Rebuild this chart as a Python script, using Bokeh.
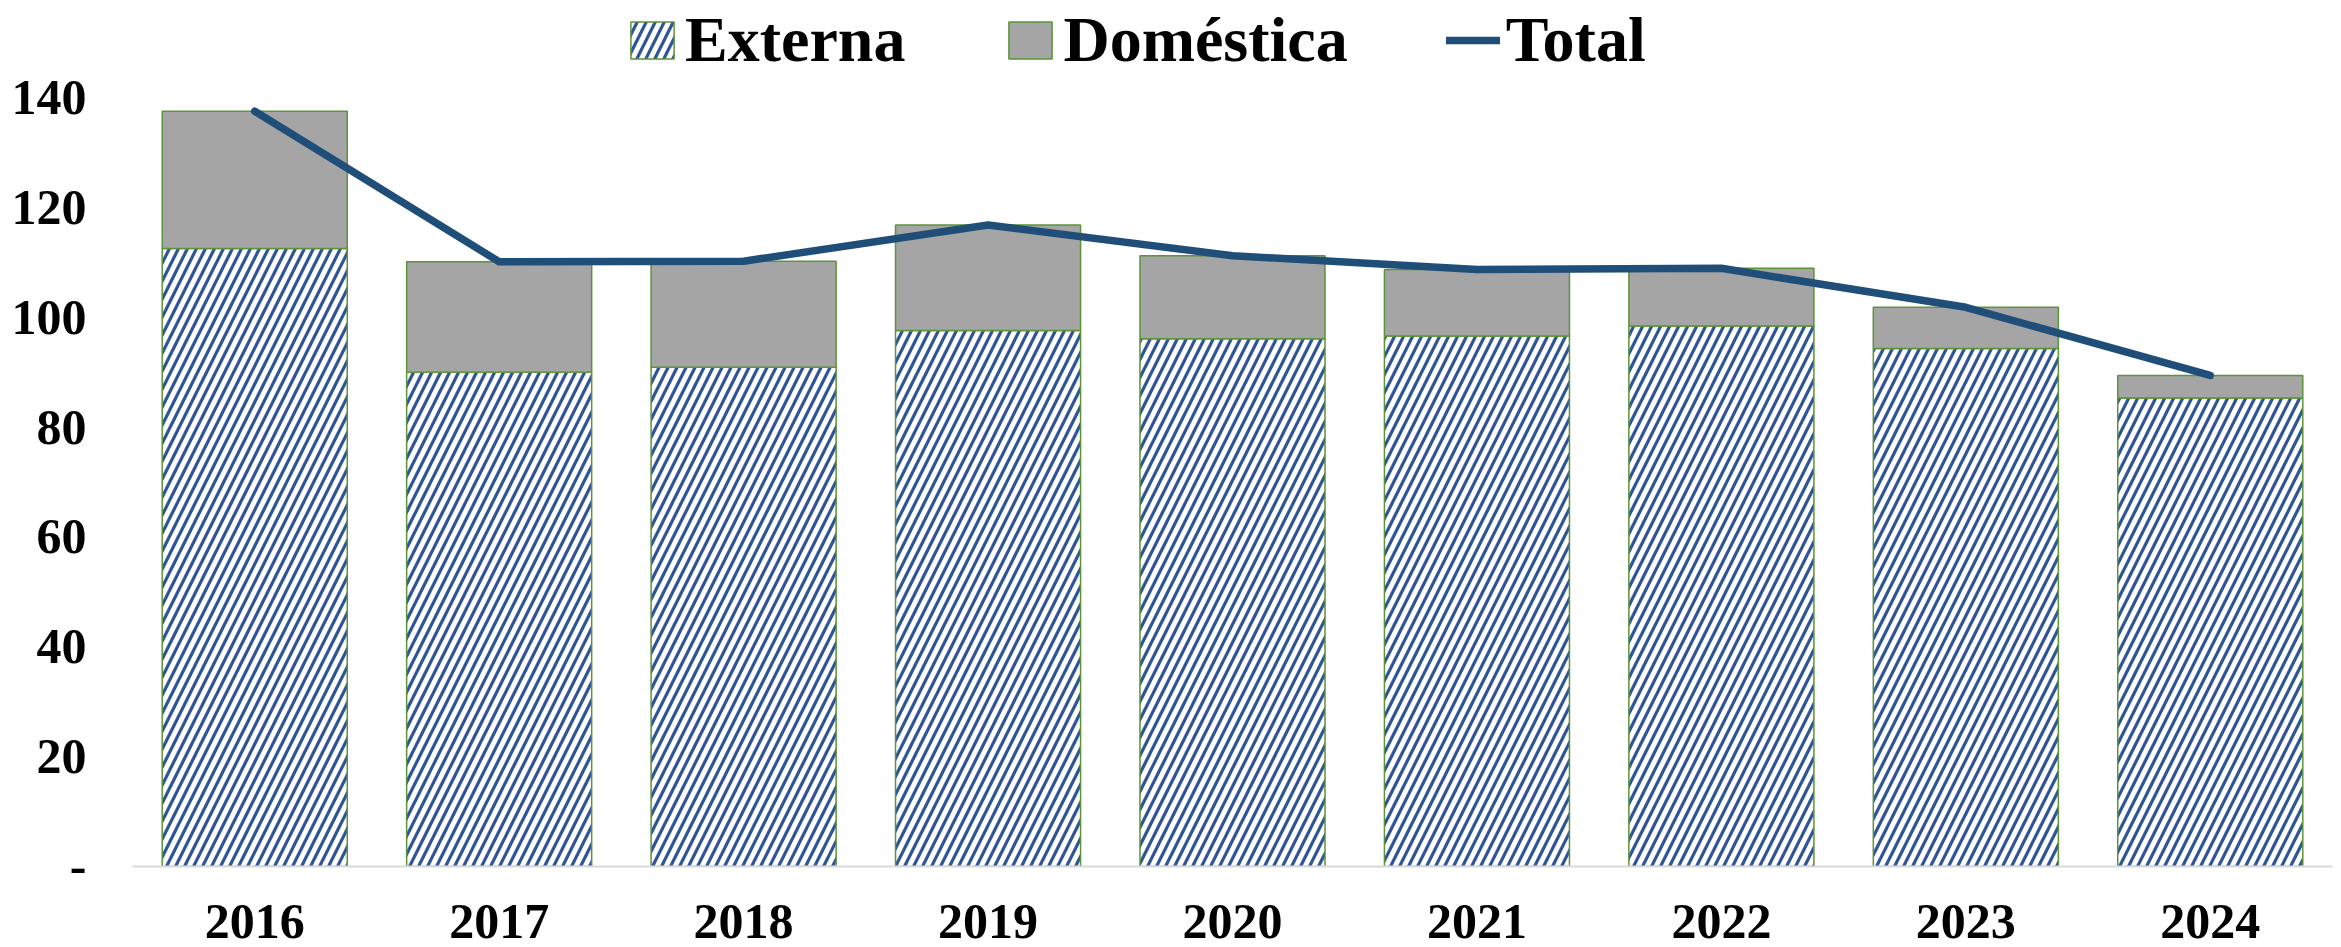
from bokeh.plotting import figure
from bokeh.models import (FactorRange, Range1d, FixedTicker, Legend, LegendItem,
                          ColumnDataSource)
from bokeh.embed import file_html
from bokeh.resources import INLINE

# ---- data ----
years = ["2016", "2017", "2018", "2019", "2020", "2021", "2022", "2023", "2024"]
externa = [112.5, 90.0, 90.9, 97.6, 96.1, 96.6, 98.4, 94.3, 85.3]
domestica = [25.0, 20.1, 19.3, 19.2, 15.1, 12.1, 10.5, 7.5, 4.1]
total = [round(e + d, 1) for e, d in zip(externa, domestica)]

y_ticks = [0, 20, 40, 60, 80, 100, 120, 140]
y_tick_labels = ["-", "20", "40", "60", "80", "100", "120", "140"]

series_labels = ["Externa", "Doméstica", "Total"]

src = ColumnDataSource(dict(year=years, externa=externa, domestica=domestica,
                            total=total, zero=[0] * len(years)))

FONT = "Liberation Serif"

# frame spans the full height above the x axis; 140 sits 97px from the top,
# leaving room for the legend above the bars
Y_TOP = 140 * 866 / (866 - 97)

p = figure(x_range=FactorRange(factors=years, range_padding=0),
           y_range=Range1d(0, Y_TOP),
           width=2341, height=947,
           output_backend="svg", toolbar_location=None,
           min_border_left=132, min_border_right=9,
           min_border_top=0, min_border_bottom=81)

r_ext = p.vbar(x="year", bottom="zero", top="externa", width=0.757, source=src,
               fill_color="white", line_color="#5B9439", line_width=1.5,
               hatch_pattern="/", hatch_color="#2F5597", hatch_scale=18,
               hatch_weight=3.2)
r_dom = p.vbar(x="year", bottom="externa", top="total", width=0.757, source=src,
               fill_color="#A5A5A5", line_color="#5B9439", line_width=1.5)
r_tot = p.line(x="year", y="total", source=src, line_width=7.5,
               line_color="#1F4E79", line_join="round", line_cap="round")

p.xgrid.visible = False
p.ygrid.visible = False
p.outline_line_color = None

xa = p.xaxis[0]
xa.axis_line_color = "#D9D9D9"
xa.axis_line_width = 2
xa.major_tick_line_color = None
xa.minor_tick_line_color = None
xa.major_label_standoff = 32
xa.major_label_text_font = FONT
xa.major_label_text_font_style = "bold"
xa.major_label_text_font_size = "50px"
xa.major_label_text_color = "black"

ya = p.yaxis[0]
ya.ticker = FixedTicker(ticks=y_ticks)
ya.major_label_overrides = {t: l for t, l in zip(y_ticks, y_tick_labels)}
ya.axis_line_color = None
ya.major_tick_line_color = None
ya.minor_tick_line_color = None
ya.major_label_standoff = 40
ya.major_label_text_font = FONT
ya.major_label_text_font_style = "bold"
ya.major_label_text_font_size = "50px"
ya.major_label_text_color = "black"

legend = Legend(items=[LegendItem(label=series_labels[0], renderers=[r_ext]),
                       LegendItem(label=series_labels[1], renderers=[r_dom]),
                       LegendItem(label=series_labels[2], renderers=[r_tot])],
                orientation="horizontal",
                location=(493, 789),
                glyph_width=54, glyph_height=46,
                label_standoff=6, spacing=98, padding=0, margin=0,
                border_line_color=None, background_fill_alpha=0,
                label_text_font=FONT, label_text_font_style="bold",
                label_text_font_size="64px", label_text_color="black")
p.add_layout(legend, "center")

open("out.html", "w").write(file_html(p, INLINE))
